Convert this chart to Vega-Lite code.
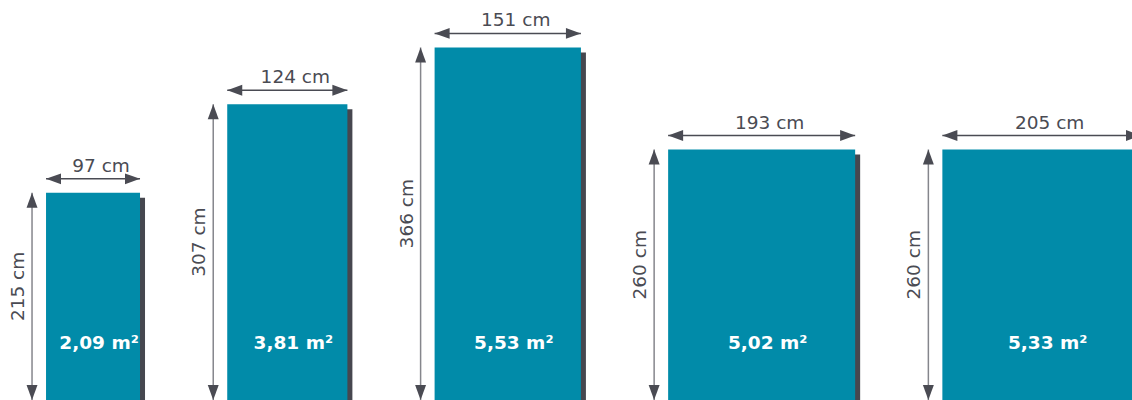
{
  "$schema": "https://vega.github.io/schema/vega-lite/v6.json",
  "width": 1132,
  "height": 400,
  "padding": 0,
  "autosize": {"type": "none"},
  "background": "white",
  "config": {"view": {"stroke": null}},
  "data": {"values": [
    {"w": 97, "h": 215, "area": 2.09},
    {"w": 124, "h": 307, "area": 3.81},
    {"w": 151, "h": 366, "area": 5.53},
    {"w": 193, "h": 260, "area": 5.02},
    {"w": 205, "h": 260, "area": 5.33}
  ]},
  "transform": [
    {"window": [{"op": "sum", "field": "w", "as": "cum"}, {"op": "row_number", "as": "i"}], "frame": [null, 0]},
    {"calculate": "47.5 + datum.cum - datum.w + (datum.i - 1) * 90", "as": "x0"},
    {"calculate": "datum.x0 + datum.w", "as": "x1"},
    {"calculate": "(datum.x0 + datum.x1) / 2", "as": "xm"},
    {"calculate": "datum.h / 2", "as": "hm"},
    {"calculate": "datum.w + ' cm'", "as": "wl"},
    {"calculate": "datum.h + ' cm'", "as": "hl"},
    {"calculate": "replace(format(datum.area, '.2f'), '.', ',') + ' m²'", "as": "al"}
  ],
  "layer": [
    {
      "mark": {"type": "rect", "color": "#46474f", "xOffset": 5, "x2Offset": 5, "yOffset": 5, "y2Offset": 5},
      "encoding": {
        "x": {"field": "x0", "type": "quantitative", "scale": {"domain": [0, 1168.2], "nice": false, "zero": false}, "axis": null},
        "x2": {"field": "x1"},
        "y": {"field": "h", "type": "quantitative", "scale": {"domain": [0, 415.2], "nice": false, "zero": false}, "axis": null},
        "y2": {"datum": 0}
      }
    },
    {
      "mark": {"type": "rect", "color": "#018ba9"},
      "encoding": {
        "x": {"field": "x0", "type": "quantitative", "scale": {"domain": [0, 1168.2], "nice": false, "zero": false}, "axis": null},
        "x2": {"field": "x1"},
        "y": {"field": "h", "type": "quantitative", "scale": {"domain": [0, 415.2], "nice": false, "zero": false}, "axis": null},
        "y2": {"datum": 0}
      }
    },
    {
      "mark": {"type": "rule", "color": "#4a4b53", "strokeWidth": 1.5, "yOffset": -14},
      "encoding": {
        "x": {"field": "x0", "type": "quantitative", "scale": {"domain": [0, 1168.2], "nice": false, "zero": false}, "axis": null},
        "x2": {"field": "x1"},
        "y": {"field": "h", "type": "quantitative", "scale": {"domain": [0, 415.2], "nice": false, "zero": false}, "axis": null}
      }
    },
    {
      "mark": {"type": "point", "filled": true, "opacity": 1, "color": "#4a4b53", "strokeWidth": 0, "size": 225, "shape": "M0,0L2,-0.73L2,0.73Z", "yOffset": -14},
      "encoding": {
        "x": {"field": "x0", "type": "quantitative", "scale": {"domain": [0, 1168.2], "nice": false, "zero": false}, "axis": null},
        "y": {"field": "h", "type": "quantitative", "scale": {"domain": [0, 415.2], "nice": false, "zero": false}, "axis": null}
      }
    },
    {
      "mark": {"type": "point", "filled": true, "opacity": 1, "color": "#4a4b53", "strokeWidth": 0, "size": 225, "shape": "M0,0L-2,-0.73L-2,0.73Z", "yOffset": -14},
      "encoding": {
        "x": {"field": "x1", "type": "quantitative", "scale": {"domain": [0, 1168.2], "nice": false, "zero": false}, "axis": null},
        "y": {"field": "h", "type": "quantitative", "scale": {"domain": [0, 415.2], "nice": false, "zero": false}, "axis": null}
      }
    },
    {
      "mark": {"type": "rule", "color": "#85868c", "strokeWidth": 1.5, "xOffset": -14},
      "encoding": {
        "x": {"field": "x0", "type": "quantitative", "scale": {"domain": [0, 1168.2], "nice": false, "zero": false}, "axis": null},
        "y": {"field": "h", "type": "quantitative", "scale": {"domain": [0, 415.2], "nice": false, "zero": false}, "axis": null},
        "y2": {"datum": 0}
      }
    },
    {
      "mark": {"type": "point", "filled": true, "opacity": 1, "color": "#4a4b53", "strokeWidth": 0, "size": 225, "shape": "M0,0L-0.73,2L0.73,2Z", "xOffset": -14},
      "encoding": {
        "x": {"field": "x0", "type": "quantitative", "scale": {"domain": [0, 1168.2], "nice": false, "zero": false}, "axis": null},
        "y": {"field": "h", "type": "quantitative", "scale": {"domain": [0, 415.2], "nice": false, "zero": false}, "axis": null}
      }
    },
    {
      "mark": {"type": "point", "filled": true, "opacity": 1, "color": "#4a4b53", "strokeWidth": 0, "size": 225, "shape": "M0,0L-0.73,-2L0.73,-2Z", "xOffset": -14},
      "encoding": {
        "x": {"field": "x0", "type": "quantitative", "scale": {"domain": [0, 1168.2], "nice": false, "zero": false}, "axis": null},
        "y": {"datum": 0, "type": "quantitative", "scale": {"domain": [0, 415.2], "nice": false, "zero": false}, "axis": null}
      }
    },
    {
      "mark": {"type": "text", "font": "DejaVu Sans", "fontSize": 18.5, "color": "#4a4b53", "align": "center", "baseline": "alphabetic", "yOffset": -21, "xOffset": 8},
      "encoding": {
        "x": {"field": "xm", "type": "quantitative", "scale": {"domain": [0, 1168.2], "nice": false, "zero": false}, "axis": null},
        "y": {"field": "h", "type": "quantitative", "scale": {"domain": [0, 415.2], "nice": false, "zero": false}, "axis": null},
        "text": {"field": "wl"}
      }
    },
    {
      "mark": {"type": "text", "font": "DejaVu Sans", "fontSize": 18.5, "color": "#4a4b53", "align": "center", "baseline": "middle", "angle": 270, "xOffset": -28, "yOffset": -10},
      "encoding": {
        "x": {"field": "x0", "type": "quantitative", "scale": {"domain": [0, 1168.2], "nice": false, "zero": false}, "axis": null},
        "y": {"field": "hm", "type": "quantitative", "scale": {"domain": [0, 415.2], "nice": false, "zero": false}, "axis": null},
        "text": {"field": "hl"}
      }
    },
    {
      "mark": {"type": "text", "font": "DejaVu Sans", "fontSize": 18.5, "fontWeight": "bold", "color": "white", "align": "center", "baseline": "middle", "xOffset": 6, "yOffset": 1},
      "encoding": {
        "x": {"field": "xm", "type": "quantitative", "scale": {"domain": [0, 1168.2], "nice": false, "zero": false}, "axis": null},
        "y": {"datum": 60, "type": "quantitative", "scale": {"domain": [0, 415.2], "nice": false, "zero": false}, "axis": null},
        "text": {"field": "al"}
      }
    }
  ]
}
